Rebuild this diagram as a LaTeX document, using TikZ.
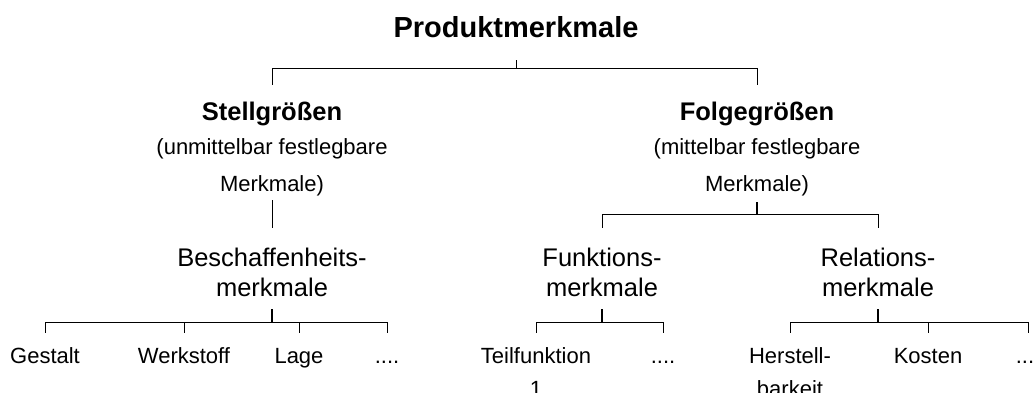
\documentclass[tikz,border=0pt]{standalone}
\usepackage{fontspec}
\setmainfont{Liberation Sans}
\usetikzlibrary{calc}
\begin{document}
\begin{tikzpicture}[x=1pt,y=-1pt,
  every node/.style={inner sep=0pt,anchor=base,align=center},
  titlebox/.style={font=\fontsize{29}{34}\selectfont\bfseries},
  groupbox/.style={font=\fontsize{22}{37}\selectfont},
  kindbox/.style={font=\fontsize{25.5}{30.5}\selectfont},
  leafbox/.style={font=\fontsize{22}{33}\selectfont},
  conn/.style={line width=1pt,black},
  stub/.style={line width=1.4pt,black}]
\useasboundingbox (0,0) rectangle (1036,392);

% top level
\node[titlebox] (prod) at (516,37.5) {Produktmerkmale};

% second level (base = last line)
\node[groupbox] (stell) at (272,191.5)
  {{\fontsize{25.5}{37}\selectfont\bfseries Stellgrößen}\\[-2.5pt](unmittelbar festlegbare\\Merkmale)};
\node[groupbox] (folge) at (757,191.5)
  {{\fontsize{25.5}{37}\selectfont\bfseries Folgegrößen}\\[-2.5pt](mittelbar festlegbare\\Merkmale)};

% third level
\node[kindbox] (besch) at (272,296.5) {Beschaffenheits-\\merkmale};
\node[kindbox] (funk)  at (602,296.5) {Funktions-\\merkmale};
\node[kindbox] (rel)   at (878,296.5) {Relations-\\merkmale};

% leaves
\node[leafbox] (gest)  at (45,363)   {Gestalt};
\node[leafbox] (werk)  at (184,363)  {Werkstoff};
\node[leafbox] (lage)  at (299,363)  {Lage};
\node[leafbox] (bdots) at (387,363)  {....};
\node[leafbox] (teil)  at (536,396)  {Teilfunktion\\1};
\node[leafbox] (fdots) at (663,363)  {....};
\node[leafbox] (herst) at (790,396)  {Herstell-\\barkeit};
\node[leafbox] (kost)  at (928,363)  {Kosten};
\node[leafbox] (rdots) at (1028,363) {....};

% junction levels
\coordinate (pjoin) at ($(prod.base)+(0,30.5)$);
\coordinate (gtop)  at ($(stell.base)+(0,-106.5)$);
\coordinate (fjoin) at ($(folge.base)+(0,22.5)$);
\coordinate (ktop)  at ($(besch.base)+(0,-69)$);
\coordinate (kjoin) at ($(besch.base)+(0,25.5)$);
\coordinate (ltop)  at ($(gest.base)+(0,-30)$);

% Produktmerkmale -> Stell-/Folgegrößen
\draw[conn] ($(prod.base)+(0,22.5)$) -- (pjoin) -| (gtop -| stell);
\draw[conn] (pjoin) -| (gtop -| folge);

% Stellgrößen -> Beschaffenheitsmerkmale
\draw[conn] ($(stell.base)+(0,8.5)$) -- (ktop -| besch);

% Folgegrößen -> Funktions-/Relationsmerkmale
\draw[stub] ($(folge.base)+(0,10.5)$) -- (fjoin);
\draw[conn] (fjoin) -| (ktop -| funk);
\draw[conn] (fjoin) -| (ktop -| rel);

% Beschaffenheitsmerkmale -> leaves
\draw[stub] ($(besch.base)+(0,12.5)$) -- (kjoin);
\foreach \c in {gest,werk,lage,bdots}
  \draw[conn] (kjoin) -| (ltop -| \c);

% Funktionsmerkmale -> leaves
\draw[stub] ($(funk.base)+(0,12.5)$) -- ($(funk.base)+(0,25.5)$);
\foreach \c in {teil,fdots}
  \draw[conn] ($(funk.base)+(0,25.5)$) -| (ltop -| \c);

% Relationsmerkmale -> leaves
\draw[stub] ($(rel.base)+(0,12.5)$) -- ($(rel.base)+(0,25.5)$);
\foreach \c in {herst,kost,rdots}
  \draw[conn] ($(rel.base)+(0,25.5)$) -| (ltop -| \c);
\end{tikzpicture}
\end{document}
